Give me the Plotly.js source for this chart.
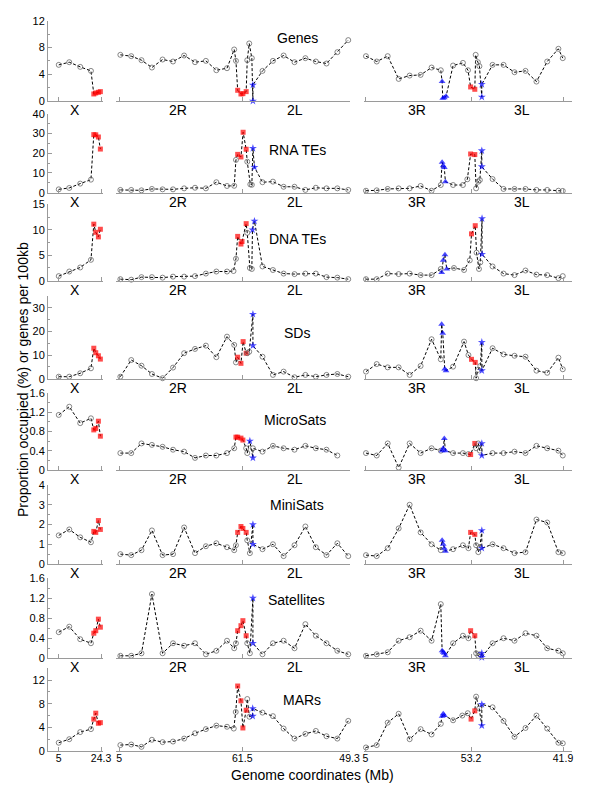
<!DOCTYPE html>
<html><head><meta charset="utf-8">
<script src="https://cdn.plot.ly/plotly-3.0.1.min.js"></script>
<style>html,body{margin:0;padding:0;background:#fff}#chart{width:600px;height:800px}</style>
</head><body><div id="chart"></div>
<script>
// ---------- shared x positions (Mb along each panel's axis) ----------
const xX  = [5, 9.8, 14.8, 19.7, 21.0, 21.9, 23.1, 24.0];
const kX  = 'oooossss';
const x2R = [5.5, 10.5, 15.2, 20.0, 24.9, 29.7, 34.8, 39.8, 44.8, 49.6, 54.5];
const x2L = [70.8, 75.6, 80.5, 85.5, 90.5, 95.3, 100.2, 105.2, 110.2];
const x3R = [5.3, 10.2, 15.2, 20.2, 25.2, 30.2, 35.2, 39.4];
const x3L = [63.0, 68.0, 73.0, 78.0, 83.0, 87.9, 93.0, 95.0];

const rowNames = ['Genes', 'RNA TEs', 'DNA TEs', 'SDs', 'MicroSats', 'MiniSats', 'Satellites', 'MARs'];

// ---------- Genes ----------
const genesX  = [5.4, 5.8, 5.1, 4.5, 1.05, 1.2, 1.3, 1.4];
const genes2x = [...x2R, 57.8, 58.6, 59.4, 60.9, 61.8, 63.3, 63.8, 64.7, 65.9, 66.4, 66.4, ...x2L];
const genes2y = [6.9, 6.7, 6.1, 5.0, 6.2, 5.9, 6.8, 5.8, 6.0, 4.6, 4.9, 7.7, 6.0, 1.6, 1.05, 1.1, 1.4, 6.1, 8.6, 6.4, 0, 2.4, 4.5, 6.0, 6.8, 5.8, 6.4, 5.9, 5.6, 7.3, 9.1];
const genes2k = 'ooooooooooo' + 'oossssooopp' + 'ooooooooo';
const genes3x = [...x3R, 40.0, 40.3, 41.0, 41.8, 45.0, 49.5, 51.8, 53.0, 54.9, 55.3, 56.3, 57.0, 58.1, 58.1, ...x3L];
const genes3y = [6.7, 5.9, 6.7, 3.3, 3.8, 3.9, 5.0, 4.6, 2.9, 0.4, 0.5, 0.7, 5.3, 5.7, 4.6, 2.1, 1.75, 6.9, 5.8, 5.2, 0.6, 2.5, 5.4, 5.4, 4.3, 4.5, 2.9, 5.9, 7.8, 6.4];
const genes3k = 'oooooooo' + 'ttttooossooopp' + 'oooooooo';

// ---------- RNA TEs ----------
const rnaX  = [1.7, 2.4, 4.6, 6.6, 29.4, 29.3, 28.2, 22.1];
const rna2x = [...x2R, 57.8, 58.6, 59.4, 60.9, 61.9, 63.3, 63.8, 65.2, 65.9, 66.4, 67.1, ...x2L];
const rna2y = [1.4, 1.4, 1.2, 1.9, 1.7, 1.7, 2.2, 2.5, 2.2, 5.3, 3.4, 3.5, 16.6, 19.4, 18.1, 30.6, 22.0, 15.7, 4.2, 4.0, 22.5, 12.9, 5.3, 5.6, 3.0, 3.0, 1.4, 2.5, 2.2, 2.2, 1.4];
const rna2k = 'ooooooooooo' + 'oossssooopp' + 'ooooooooo';
const rna3x = [...x3R, 40.0, 40.5, 41.0, 41.5, 45.0, 49.5, 51.5, 53.0, 54.9, 55.5, 56.5, 57.2, 58.1, 58.1, ...x3L];
const rna3y = [1.0, 1.2, 1.9, 2.2, 2.2, 3.4, 1.0, 3.9, 15.4, 13.7, 12.7, 5.6, 3.9, 3.9, 6.8, 19.6, 19.3, 2.2, 5.6, 6.4, 21.3, 13.2, 6.9, 1.9, 1.9, 1.9, 1.4, 1.4, 1.0, 0.9];
const rna3k = 'oooooooo' + 'ttttooossooopp' + 'oooooooo';

// ---------- DNA TEs ----------
const dnaX  = [0.9, 1.8, 2.6, 4.1, 11.1, 9.5, 8.6, 10.1];
const dna2x = [...x2R, 57.5, 58.6, 59.4, 60.9, 61.4, 63.3, 63.8, 65.0, 65.9, 66.2, 67.1, ...x2L];
const dna2y = [0.3, 0.2, 0.7, 0.7, 0.6, 0.8, 0.8, 0.9, 1.4, 1.8, 1.8, 1.9, 4.3, 8.7, 7.2, 7.7, 11.2, 9.4, 2.5, 2.3, 10.0, 11.7, 2.8, 2.1, 1.4, 1.3, 1.4, 1.4, 0.7, 0.6, 0.3];
const dna2k = 'ooooooooooo' + 'oossssooopp' + 'ooooooooo';
const dna3x = [...x3R, 39.8, 40.5, 41.3, 42.1, 45.4, 50.0, 52.6, 53.4, 55.1, 55.7, 56.8, 57.4, 58.2, 58.2, ...x3L];
const dna3y = [0.3, 0.3, 1.4, 1.3, 1.4, 1.1, 1.1, 2.3, 1.6, 4.0, 5.1, 2.3, 2.5, 2.1, 4.0, 9.2, 10.8, 5.5, 2.3, 3.6, 12.2, 5.2, 2.8, 1.4, 1.1, 2.0, 1.2, 1.1, 0.5, 0.9];
const dna3k = 'oooooooo' + 'ttttooossooopp' + 'oooooooo';

// ---------- SDs ----------
const sdX  = [0.85, 0.85, 2.3, 4.4, 12.9, 11.0, 9.7, 8.3];
const sd2x = [...x2R, 57.8, 58.6, 59.4, 60.9, 61.9, 63.3, 63.8, 64.7, 66.4, 66.4, ...x2L];
const sd2y = [0.85, 7.9, 5.5, 2.0, 0.2, 4.7, 10.8, 12.6, 14.0, 9.1, 17.8, 14.3, 6.9, 9.1, 6.5, 15.7, 10.8, 10.8, 11.4, 27.3, 14.0, 9.3, 1.6, 3.0, 0.6, 1.6, 0.85, 1.6, 2.0, 0.85];
const sd2k = 'ooooooooooo' + 'oossssoopp' + 'ooooooooo';
const sd3x = [...x3R, 39.8, 40.3, 41.2, 41.8, 45.0, 50.0, 52.0, 53.4, 55.1, 55.5, 56.3, 57.4, 58.1, 58.1, ...x3L];
const sd3y = [3.0, 6.2, 4.8, 4.8, 1.6, 5.4, 16.7, 8.2, 23.0, 19.2, 4.1, 3.4, 5.1, 15.7, 10.0, 8.2, 6.9, 0.2, 3.7, 5.4, 15.4, 3.4, 12.9, 10.3, 9.7, 9.3, 3.4, 2.5, 8.9, 4.0];
const sd3k = 'oooooooo' + 'ttttooossooopp' + 'oooooooo';

// ---------- MicroSats ----------
const micX  = [1.14, 1.31, 0.97, 1.07, 0.83, 0.86, 1.01, 0.70];
const mic2x = [...x2R, 57.8, 58.6, 59.4, 60.9, 61.8, 63.3, 63.8, 65.0, 66.4, 66.4, ...x2L];
const mic2y = [0.35, 0.35, 0.55, 0.52, 0.48, 0.42, 0.38, 0.25, 0.3, 0.3, 0.35, 0.45, 0.68, 0.68, 0.66, 0.62, 0.45, 0.35, 0.6, 0.25, 0.45, 0.38, 0.5, 0.45, 0.42, 0.5, 0.45, 0.42, 0.3];
const mic2k = 'ooooooooooo' + 'ossssoopp' + 'ooooooooo';
const mic3x = [...x3R, 40.0, 40.5, 41.0, 41.5, 45.0, 49.5, 52.0, 53.0, 54.9, 55.5, 56.5, 57.2, 58.1, 58.1, ...x3L];
const mic3y = [0.35, 0.3, 0.55, 0.05, 0.55, 0.35, 0.45, 0.4, 0.4, 0.45, 0.65, 0.4, 0.35, 0.35, 0.33, 0.32, 0.55, 0.45, 0.55, 0.4, 0.55, 0.3, 0.35, 0.35, 0.38, 0.35, 0.5, 0.45, 0.4, 0.3];
const mic3k = 'oooooooo' + 'ttttooossooopp' + 'oooooooo';

// ---------- MiniSats ----------
const minX  = [1.45, 1.75, 1.35, 1.1, 1.65, 1.6, 2.2, 1.75];
const min2x = [...x2R, 57.8, 58.6, 59.4, 60.9, 61.8, 63.3, 63.8, 65.0, 66.4, 66.4, ...x2L];
const min2y = [0.5, 0.45, 0.7, 1.7, 0.45, 0.5, 1.85, 0.55, 0.9, 1.05, 0.85, 0.7, 0.95, 1.6, 1.9, 1.8, 1.6, 1.2, 0.55, 2.0, 1.0, 0.75, 1.0, 0.4, 0.95, 1.9, 0.85, 0.45, 1.05, 0.4];
const min2k = 'ooooooooooo' + 'oossssoopp' + 'ooooooooo';
const min3x = [...x3R, 40.0, 40.5, 41.0, 41.5, 45.0, 49.5, 52.0, 53.0, 54.9, 55.5, 56.5, 57.2, 58.1, 58.1, ...x3L];
const min3y = [0.45, 0.4, 0.8, 1.8, 3.0, 1.6, 1.0, 0.7, 1.2, 1.0, 0.8, 0.65, 0.75, 0.95, 0.8, 1.6, 1.5, 0.95, 0.6, 0.85, 1.7, 0.8, 1.0, 0.8, 0.55, 0.6, 2.25, 2.1, 0.6, 0.55];
const min3k = 'oooooooo' + 'ttttooossooopp' + 'oooooooo';

// ---------- Satellites ----------
const satX  = [0.52, 0.63, 0.38, 0.3, 0.5, 0.55, 0.78, 0.62];
const sat2x = [...x2R, 57.8, 58.6, 59.4, 60.9, 61.8, 63.3, 63.8, 65.0, 66.4, 66.4, ...x2L];
const sat2y = [0.05, 0.05, 0.1, 1.28, 0.1, 0.3, 0.25, 0.3, 0.08, 0.15, 0.35, 0.2, 0.3, 0.55, 0.65, 0.75, 0.45, 0.3, 0.1, 1.2, 0.3, 0.08, 0.3, 0.35, 0.2, 0.68, 0.45, 0.3, 0.15, 0.08];
const sat2k = 'ooooooooooo' + 'oossssoopp' + 'ooooooooo';
const sat3x = [...x3R, 40.0, 40.5, 41.0, 41.5, 45.0, 49.5, 52.0, 53.0, 54.9, 55.5, 56.5, 57.2, 58.1, 58.1, ...x3L];
const sat3y = [0.05, 0.08, 0.12, 0.35, 0.42, 0.55, 0.35, 1.08, 0.15, 0.12, 0.1, 0.05, 0.3, 0.45, 0.4, 0.55, 0.45, 0.1, 0.05, 0.08, 0.1, 0.02, 0.3, 0.4, 0.35, 0.5, 0.45, 0.2, 0.15, 0.1];
const sat3k = 'oooooooo' + 'ttttooossooopp' + 'oooooooo';

// ---------- MARs ----------
const marX  = [1.4, 2.0, 3.2, 3.7, 5.4, 6.4, 4.7, 4.8];
const mar2x = [...x2R, 57.6, 58.5, 59.4, 60.9, 61.8, 63.3, 63.8, 64.8, 66.3, 66.3, ...x2L];
const mar2y = [1.0, 1.1, 0.7, 1.9, 1.5, 1.6, 2.1, 3.0, 3.7, 4.3, 4.1, 3.8, 6.6, 11.0, 8.5, 3.9, 6.9, 8.8, 5.8, 5.9, 7.2, 6.5, 5.9, 3.8, 2.1, 2.9, 3.4, 2.5, 2.1, 5.1];
const mar2k = 'ooooooooooo' + 'oossssoopp' + 'ooooooooo';
const mar3x = [...x3R, 40.0, 40.5, 41.0, 45.0, 49.2, 51.7, 53.2, 54.9, 55.5, 56.9, 58.1, 58.1, ...x3L];
const mar3y = [0.6, 1.0, 4.8, 6.3, 2.0, 3.7, 2.8, 4.6, 5.9, 6.3, 6.0, 5.2, 6.0, 6.4, 5.4, 6.8, 9.2, 7.2, 4.3, 7.9, 7.4, 5.1, 2.4, 3.9, 6.0, 3.8, 1.4, 1.3];
const mar3k = 'oooooooo' + 'tttooossoopp' + 'oooooooo';

const panels = [
  [[xX, genesX, kX], [genes2x, genes2y, genes2k], [genes3x, genes3y, genes3k]],
  [[xX, rnaX, kX],   [rna2x, rna2y, rna2k],       [rna3x, rna3y, rna3k]],
  [[xX, dnaX, kX],   [dna2x, dna2y, dna2k],       [dna3x, dna3y, dna3k]],
  [[xX, sdX, kX],    [sd2x, sd2y, sd2k],          [sd3x, sd3y, sd3k]],
  [[xX, micX, kX],   [mic2x, mic2y, mic2k],       [mic3x, mic3y, mic3k]],
  [[xX, minX, kX],   [min2x, min2y, min2k],       [min3x, min3y, min3k]],
  [[xX, satX, kX],   [sat2x, sat2y, sat2k],       [sat3x, sat3y, sat3k]],
  [[xX, marX, kX],   [mar2x, mar2y, mar2k],       [mar3x, mar3y, mar3k]]
];

// y-axis settings per row
const yMax   = [12, 40, 15, 35, 1.6, 4, 1.6, 14];
const yMajor = [4, 10, 5, 10, 0.4, 1, 0.4, 4];
const yMinor = [2, 5, 2.5, 5, 0.2, 0.5, 0.2, 2];

// x tick labels
const xTickVals = [[5, 24.3], [5, 61.5, 110.8], [5, 53.2, 95.1]];
const xTickText = [['5', '24.3'], ['5', '61.5', '49.3'], ['5', '53.2', '41.9']];
const armLabels = [[['X', 75]], [['2R', 178], ['2L', 295]], [['3R', 417], ['3L', 522]]];

// ---------- layout geometry (pixels) ----------
const W = 600, H = 800;
const colPx = [[48, 103], [116, 350], [364, 572]];
const colRange = [[0.1, 25.2], [3.5, 111.0], [4.4, 99.2]];
const rowPx = [[20.7, 101], [113.7, 192.7], [204.3, 280.7], [296, 378.7], [392.7, 470], [485, 564], [578, 658.3], [668.3, 751]];
const titlePx = [[297, 38], [297, 150], [297, 239], [297, 333], [295, 420], [297, 505], [296, 600], [302, 700]];

const style = {
  o: {symbol: 'circle-open', color: '#555555', size: 5, lw: 1},
  s: {symbol: 'square', color: '#ff0000', size: 5, lw: 0},
  t: {symbol: 'triangle-up', color: '#0000ff', size: 6, lw: 0},
  p: {symbol: 'star', color: '#0000ff', size: 6, lw: 0}
};

const font = 'Liberation Sans, Arial, sans-serif';
const traces = [];
const layout = {
  width: W, height: H, margin: {l: 0, r: 0, t: 0, b: 0},
  paper_bgcolor: '#fff', plot_bgcolor: 'rgba(0,0,0,0)',
  showlegend: false, font: {family: font, color: '#000', size: 11},
  annotations: []
};

for (let r = 0; r < 8; r++) {
  for (let c = 0; c < 3; c++) {
    const idx = r * 3 + c + 1;
    const [px, py, pk] = panels[r][c];
    const ks = pk.split('');
    traces.push({
      type: 'scatter', mode: 'lines+markers',
      x: px, y: py,
      xaxis: 'x' + idx, yaxis: 'y' + idx,
      line: {color: '#000', width: 1, dash: '3px,2px'},
      marker: {
        symbol: ks.map(k => style[k].symbol),
        color: ks.map(k => style[k].color),
        size: ks.map(k => style[k].size),
        line: {color: ks.map(k => style[k].color), width: ks.map(k => style[k].lw)}
      },
      cliponaxis: false, hoverinfo: 'x+y'
    });
    const last = r === 7;
    layout['xaxis' + idx] = {
      domain: [colPx[c][0] / W, colPx[c][1] / W],
      range: colRange[c], anchor: 'y' + idx,
      showgrid: false, zeroline: false, showline: true, linecolor: '#9a9a9a', linewidth: 1,
      ticks: 'inside', ticklen: 4, tickcolor: '#9a9a9a',
      tickvals: xTickVals[c], ticktext: xTickText[c], ticklabelstandoff: -3,
      showticklabels: last, tickfont: {size: 10.5, color: '#000'}, fixedrange: true
    };
    const yax = {
      domain: [1 - rowPx[r][1] / H, 1 - rowPx[r][0] / H],
      range: [0, yMax[r]], anchor: 'x' + idx,
      showgrid: false, zeroline: false, fixedrange: true
    };
    if (c === 0) {
      Object.assign(yax, {
        showline: true, linecolor: '#9a9a9a', linewidth: 1,
        ticks: 'inside', ticklen: 4, tickcolor: '#9a9a9a',
        dtick: yMajor[r], tick0: 0, tickfont: {size: 11, color: '#000'},
        minor: {dtick: yMinor[r], tick0: 0, ticks: 'inside', ticklen: 2, tickcolor: '#9a9a9a'}
      });
    } else {
      Object.assign(yax, {visible: false});
    }
    layout['yaxis' + idx] = yax;

    if (!last) {
      armLabels[c].forEach(([t, xp]) => {
        layout.annotations.push({
          text: t, xref: 'paper', yref: 'paper', x: xp / W, y: 1 - (rowPx[r][1] + 9) / H,
          xanchor: 'center', yanchor: 'middle', showarrow: false, font: {size: 14, color: '#000', family: font}
        });
      });
    }
  }
  layout.annotations.push({
    text: rowNames[r], xref: 'paper', yref: 'paper', x: titlePx[r][0] / W, y: 1 - titlePx[r][1] / H,
    xanchor: 'center', yanchor: 'middle', showarrow: false, font: {size: 14, color: '#000', family: font}
  });
}

layout.annotations.push({
  text: 'Genome coordinates (Mb)', xref: 'paper', yref: 'paper', x: 312 / W, y: 1 - 775 / H,
  xanchor: 'center', yanchor: 'middle', showarrow: false, font: {size: 14, color: '#000', family: font}
});
layout.annotations.push({
  text: 'Proportion occupied (%) or genes per 100kb', xref: 'paper', yref: 'paper', x: 23 / W, y: 1 - 380 / H,
  xanchor: 'center', yanchor: 'middle', textangle: -90, showarrow: false, font: {size: 14, color: '#000', family: font}
});

Plotly.newPlot('chart', traces, layout, {staticPlot: true, displayModeBar: false});
</script>
</body></html>
